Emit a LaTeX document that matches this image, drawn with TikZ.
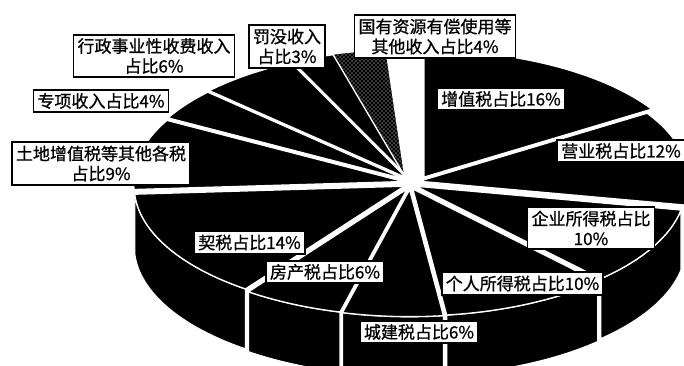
\documentclass[tikz,border=0pt]{standalone}
\usepackage{fontspec}
\setmainfont{Noto Sans CJK SC}
\newfontfamily\lblfont{Noto Sans CJK SC}[FakeBold=0.8]
\usetikzlibrary{calc,patterns}
\begin{document}
\begin{tikzpicture}[x=0.75pt,y=0.75pt]
\def\PCX{410}\def\PCY{182}
\def\PRX{202.5pt}\def\PRY{95.25pt}
\def\PDEP{45pt}
\tikzset{
  piefill/.style={fill=black,draw=white,line width=1pt,line join=round},
  lbl/.style={draw=black,line width=1.4pt,fill=white,inner xsep=3pt,inner ysep=2.5pt,
    align=center,font=\lblfont\fontsize{12.75}{15}\selectfont}
}
\newcommand\pietop[4][]{% [extra] start end offset
  \pgfmathsetmacro\pmidang{(#2+#3)/2}
  \path[piefill,#1,shift={(\pmidang:#4)}] (\PCX,\PCY) -- ++(#2:202.5pt and 95.25pt)
    arc[start angle=#2,end angle=#3,x radius=\PRX,y radius=\PRY] -- cycle;
}
\newcommand\pieside[4]{% mid start end offset
  \path[piefill,shift={(#1:#4)}] ($(\PCX,\PCY)+(#2:202.5pt and 95.25pt)$)
    arc[start angle=#2,end angle=#3,x radius=\PRX,y radius=\PRY] -- ++(0,-\PDEP)
    arc[start angle=#3,end angle=#2,x radius=\PRX,y radius=\PRY] -- cycle;
}
\useasboundingbox (0,0) rectangle (684,365);
\fill[white] (0,0) rectangle (684,365);
% side walls (front half)
\pieside{10.8}{-10.8}{0}{7pt}
\pieside{-28.8}{-46.8}{-10.8}{5pt}
\pieside{-64.8}{-82.8}{-46.8}{5pt}
\pieside{-93.6}{-104.4}{-82.8}{5pt}
\pieside{-115.2}{-126}{-104.4}{5pt}
\pieside{-151.2}{-176.4}{-126}{5pt}
\pieside{167.4}{-180}{-176.4}{5pt}
% top faces
\pietop[xshift=8pt]{32.4}{90}{5pt}
\pietop{-10.8}{32.4}{7pt}
\pietop{-46.8}{-10.8}{5pt}
\pietop{-82.8}{-46.8}{5pt}
\pietop{-104.4}{-82.8}{5pt}
\pietop{-126}{-104.4}{5pt}
\pietop{-176.4}{-126}{5pt}
\pietop{151.2}{183.6}{5pt}
\pietop{136.8}{151.2}{5pt}
\pietop{115.2}{136.8}{5pt}
\pietop{105.5}{115.2}{5pt}
\pietop[xshift=-3pt]{94}{105.5}{5pt}
\pietop[xshift=-3pt,fill=none,draw=none,pattern=crosshatch dots,pattern color=white]{94}{105.5}{5pt}
% labels
\node[lbl] (xz) at (154,309) {行政事业性收费收入\\占比6\%};
\node[lbl] (fm) at (287,318.5) {罚没收入\\占比3\%};
\node[lbl] (gy) at (435,328.5) {国有资源有偿使用等\\其他收入占比4\%};
\node[lbl] (zx) at (101,264) {专项收入占比4\%};
\node[lbl] (td) at (101,201.5) {土地增值税等其他各税\\占比9\%};
\node[lbl] (zzs) at (501,266) {增值税占比16\%};
\node[lbl] (yys) at (621,214) {营业税占比12\%};
\node[lbl] (qy) at (591,137) {企业所得税占比\\10\%};
\node[lbl] (gr) at (522.5,81.5) {个人所得税占比10\%};
\node[lbl] (qs) at (249.5,122.5) {契税占比14\%};
\node[lbl] (fc) at (325,93) {房产税占比6\%};
\node[lbl] (cj) at (419,33) {城建税占比6\%};
\end{tikzpicture}
\end{document}
